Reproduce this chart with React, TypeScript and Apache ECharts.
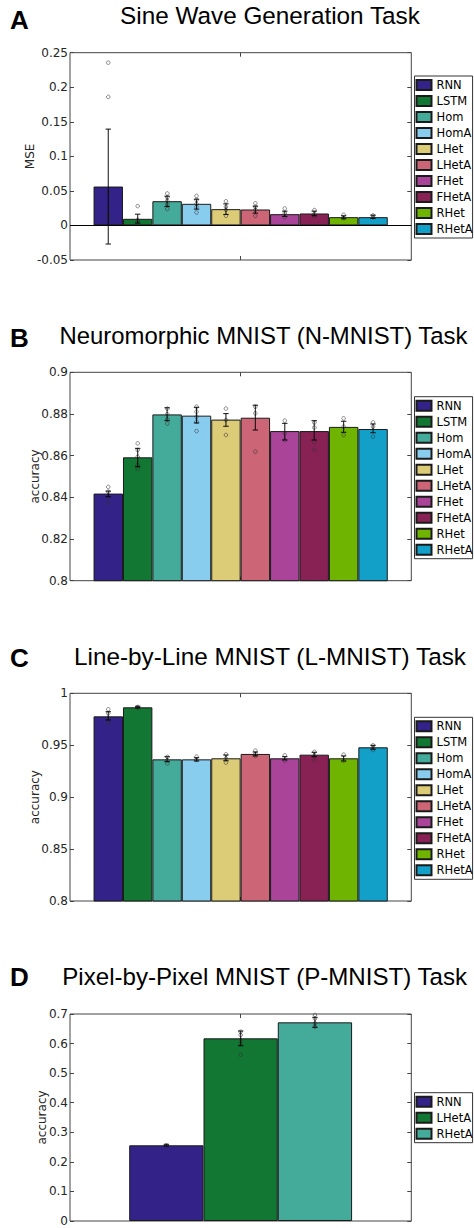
import React, { useEffect, useRef } from 'react';
import * as echarts from 'echarts';

// ---------- data ----------
const MODELS = ['RNN', 'LSTM', 'Hom', 'HomA', 'LHet', 'LHetA', 'FHet', 'FHetA', 'RHet', 'RHetA'];
const MODELS_D = ['RNN', 'LHetA', 'RHetA'];

const SINE_MEAN = [0.0563, 0.0096, 0.0351, 0.0313, 0.0236, 0.0231, 0.0163, 0.0173, 0.012, 0.012];
const SINE_LOW = [-0.0269, 0.0034, 0.0274, 0.0236, 0.0159, 0.0178, 0.013, 0.014, 0.0096, 0.0101];
const SINE_HIGH = [0.1394, 0.0163, 0.0423, 0.038, 0.0313, 0.0279, 0.0207, 0.0207, 0.014, 0.0149];
const SINE_RUNS = [
  [0.2356, 0.186, 0.0476, 0.027, 0.016, 0.014, 0.008],
  [0.028, 0.008, 0.006],
  [0.0476, 0.042, 0.037, 0.032, 0.025],
  [0.0428, 0.037, 0.031, 0.027, 0.0188],
  [0.035, 0.027, 0.0226, 0.014],
  [0.032, 0.027, 0.0226, 0.014],
  [0.0245, 0.0178, 0.012],
  [0.0236, 0.0178, 0.014],
  [0.0154, 0.0106],
  [0.0145, 0.012],
];

const NMNIST_MEAN = [0.8418, 0.8592, 0.8798, 0.8792, 0.8773, 0.8782, 0.8718, 0.8718, 0.8738, 0.8728];
const NMNIST_LOW = [0.8403, 0.8547, 0.8768, 0.8757, 0.8741, 0.8723, 0.8675, 0.8675, 0.8712, 0.871];
const NMNIST_HIGH = [0.843, 0.8635, 0.883, 0.8832, 0.8802, 0.8842, 0.8755, 0.8768, 0.8765, 0.8752];
const NMNIST_RUNS = [
  [0.845, 0.8427, 0.84, 0.8374],
  [0.8659, 0.8627, 0.8595, 0.8555, 0.8536],
  [0.883, 0.8803, 0.8779, 0.8758],
  [0.8835, 0.8811, 0.8787, 0.8763, 0.8718],
  [0.8826, 0.8771, 0.8699],
  [0.8835, 0.8803, 0.8619],
  [0.8768, 0.8707, 0.8675],
  [0.8763, 0.8739, 0.8667, 0.8632],
  [0.8779, 0.8739, 0.8699],
  [0.876, 0.8739, 0.8691],
];

const LMNIST_MEAN = [0.9778, 0.9865, 0.9364, 0.9364, 0.9374, 0.9416, 0.9374, 0.9409, 0.9374, 0.948];
const LMNIST_LOW = [0.9743, 0.9859, 0.9342, 0.9348, 0.9351, 0.9397, 0.9358, 0.939, 0.9348, 0.9461];
const LMNIST_HIGH = [0.9823, 0.9875, 0.939, 0.938, 0.9406, 0.9435, 0.939, 0.9432, 0.9397, 0.9499];
const LMNIST_RUNS = [
  [0.9846, 0.9807, 0.9759, 0.9711],
  [0.9868, 0.9862],
  [0.9397, 0.9364, 0.9332],
  [0.939, 0.9358],
  [0.9413, 0.9374, 0.9332],
  [0.9448, 0.9416, 0.9397],
  [0.9403, 0.9351],
  [0.9445, 0.9406, 0.9364],
  [0.9409, 0.9351],
  [0.9499, 0.9477, 0.9454],
];

const PMNIST_MEAN = [0.2559, 0.6177, 0.6718];
const PMNIST_LOW = [0.2536, 0.5929, 0.6549];
const PMNIST_HIGH = [0.2593, 0.6425, 0.6887];
const PMNIST_RUNS = [
  [0.2559],
  [0.64, 0.629, 0.612, 0.5985, 0.5625],
  [0.6966, 0.6842, 0.6684, 0.6571],
];

// ---------- styles ----------
const COLORS = ['#332288', '#117733', '#44AA99', '#88CCEE', '#DDCC77', '#CC6677', '#AA4499', '#882255', '#6fb400', '#129fc8'];
const COLORS_D = ['#332288', '#117733', '#44AA99'];
const AX = '#444444';
const TXT = '#262626';
const TICK_FONT = '"DejaVu Sans", sans-serif';
const TITLE_FONT = '"Liberation Sans", Arial, sans-serif';

type PanelCfg = {
  letter: string;
  title: string;
  top: number;
  height: number;
  titleX: number;
  titleAlign: string;
  titleSize: number;
  titleY: number;
  letterY: number;
  gridTop: number;
  gridH: number;
  legendTop: number;
  names: string[];
  colors: string[];
  mean: number[];
  low: number[];
  high: number[];
  runs: number[][];
  yMin: number;
  yMax: number;
  yStep: number;
  yName: string;
  nameGap: number;
  gap: number;
  zeroLine: boolean;
};

const PANELS: PanelCfg[] = [
  {
    letter: 'A', title: 'Sine Wave Generation Task', top: 0, height: 300,
    titleX: 270, titleAlign: 'center', titleSize: 24.3, titleY: 15, letterY: 20,
    gridTop: 52.7, gridH: 207.3, legendTop: 76, names: MODELS, colors: COLORS,
    mean: SINE_MEAN, low: SINE_LOW, high: SINE_HIGH, runs: SINE_RUNS,
    yMin: -0.05, yMax: 0.25, yStep: 0.05, yName: 'MSE', nameGap: 34, gap: 0.138, zeroLine: true,
  },
  {
    letter: 'B', title: 'Neuromorphic MNIST (N-MNIST) Task', top: 300, height: 320,
    titleX: 59.5, titleAlign: 'left', titleSize: 23.9, titleY: 35, letterY: 37.7,
    gridTop: 72.3, gridH: 208.4, legendTop: 96.7, names: MODELS, colors: COLORS,
    mean: NMNIST_MEAN, low: NMNIST_LOW, high: NMNIST_HIGH, runs: NMNIST_RUNS,
    yMin: 0.8, yMax: 0.9, yStep: 0.02, yName: 'accuracy', nameGap: 29, gap: 0.138, zeroLine: false,
  },
  {
    letter: 'C', title: 'Line-by-Line MNIST (L-MNIST) Task', top: 620, height: 300,
    titleX: 270, titleAlign: 'center', titleSize: 24.3, titleY: 36, letterY: 37.7,
    gridTop: 73.3, gridH: 207.7, legendTop: 97.3, names: MODELS, colors: COLORS,
    mean: LMNIST_MEAN, low: LMNIST_LOW, high: LMNIST_HIGH, runs: LMNIST_RUNS,
    yMin: 0.8, yMax: 1, yStep: 0.05, yName: 'accuracy', nameGap: 29, gap: 0.138, zeroLine: false,
  },
  {
    letter: 'D', title: 'Pixel-by-Pixel MNIST (P-MNIST) Task', top: 920, height: 308,
    titleX: 62.3, titleAlign: 'left', titleSize: 24.1, titleY: 56, letterY: 56.7,
    gridTop: 94, gridH: 207, legendTop: 172.7, names: MODELS_D, colors: COLORS_D,
    mean: PMNIST_MEAN, low: PMNIST_LOW, high: PMNIST_HIGH, runs: PMNIST_RUNS,
    yMin: 0, yMax: 0.7, yStep: 0.1, yName: 'accuracy', nameGap: 22, gap: 0.347, zeroLine: false,
  },
];

function buildOption(cfg: PanelCfg): any {
  const n = cfg.names.length;
  const offsetX = (api: any, j: number) => {
    const bw = (api.size([1, 0])[0] * (1 - cfg.gap)) / n;
    return (j - (n - 1) / 2) * bw;
  };

  const bars = cfg.names.map((name, j) => {
    const s: any = {
      type: 'bar',
      name,
      data: [cfg.mean[j]],
      barGap: '0%',
      barCategoryGap: cfg.gap * 100 + '%',
      itemStyle: { color: cfg.colors[j], borderColor: '#1a1a1a', borderWidth: 1 },
      silent: true,
      z: 2,
    };
    if (j === 0 && cfg.zeroLine) {
      s.markLine = {
        silent: true,
        symbol: ['none', 'none'],
        label: { show: false },
        lineStyle: { color: '#000', width: 1, type: 'solid' },
        data: [{ yAxis: 0 }],
        z: 5,
      };
    }
    return s;
  });

  const errData = cfg.names.map((_, j) => [0, cfg.low[j], cfg.high[j], j]);
  const ptsData: number[][] = [];
  cfg.runs.forEach((arr, j) => arr.forEach((v) => ptsData.push([0, v, j])));

  const points = {
    type: 'custom',
    silent: true,
    z: 3,
    encode: { x: 0, y: 1 },
    data: ptsData,
    renderItem: (_p: any, api: any) => {
      const j = api.value(2);
      const c = api.coord([0, api.value(1)]);
      return {
        type: 'circle',
        shape: { cx: c[0] + offsetX(api, j), cy: c[1], r: 1.8 },
        style: { fill: 'none', stroke: 'rgba(50,50,50,0.7)', lineWidth: 0.8 },
      };
    },
  };

  const errors = {
    type: 'custom',
    silent: true,
    z: 4,
    encode: { x: 0, y: [1, 2] },
    data: errData,
    renderItem: (_p: any, api: any) => {
      const j = api.value(3);
      const lo = api.coord([0, api.value(1)]);
      const hi = api.coord([0, api.value(2)]);
      const x = lo[0] + offsetX(api, j);
      const cw = 2.7;
      const st = { stroke: 'rgba(0,0,0,0.85)', lineWidth: 1.1 };
      return {
        type: 'group',
        children: [
          { type: 'line', shape: { x1: x, y1: lo[1], x2: x, y2: hi[1] }, style: st },
          { type: 'line', shape: { x1: x - cw, y1: lo[1], x2: x + cw, y2: lo[1] }, style: st },
          { type: 'line', shape: { x1: x - cw, y1: hi[1], x2: x + cw, y2: hi[1] }, style: st },
        ],
      };
    },
  };

  const catAxis = (position: string) => ({
    type: 'category',
    data: [''],
    position,
    axisLine: { show: false, onZero: false },
    axisTick: { show: true, inside: true, alignWithLabel: true, length: 4, lineStyle: { color: AX } },
    axisLabel: { show: false },
    splitLine: { show: false },
  });

  const valAxisBase = {
    type: 'value',
    min: cfg.yMin,
    max: cfg.yMax,
    interval: cfg.yStep,
    axisLine: { show: false },
    axisTick: { show: true, inside: true, length: 4, lineStyle: { color: AX } },
    splitLine: { show: false },
  };

  return {
    animation: false,
    textStyle: { fontFamily: TICK_FONT },
    grid: {
      left: 70, top: cfg.gridTop, width: 341.3, height: cfg.gridH,
      show: true, borderColor: AX, borderWidth: 1, backgroundColor: 'rgba(0,0,0,0)',
    },
    xAxis: [catAxis('bottom'), catAxis('top')],
    yAxis: [
      {
        ...valAxisBase,
        position: 'left',
        name: cfg.yName,
        nameLocation: 'middle',
        nameGap: cfg.nameGap,
        nameRotate: 90,
        nameMoveOverlap: false,
        nameTextStyle: { color: TXT, fontSize: 12, fontFamily: TICK_FONT },
        axisLabel: { margin: 2, color: TXT, fontSize: 12, fontFamily: TICK_FONT },
      },
      { ...valAxisBase, position: 'right', axisLabel: { show: false } },
    ],
    legend: {
      data: cfg.names,
      orient: 'vertical',
      left: 414.5,
      top: cfg.legendTop,
      itemWidth: 15,
      itemHeight: 10,
      itemGap: 4,
      padding: [3, 0, 3, 1],
      borderColor: '#333',
      borderWidth: 1,
      backgroundColor: '#fff',
      icon: 'rect',
      selectedMode: false,
      textStyle: { fontFamily: TICK_FONT, fontSize: 11.5, color: '#000' },
    },
    graphic: [
      {
        type: 'text',
        silent: true,
        style: {
          x: cfg.titleX, y: cfg.titleY, text: cfg.title, font: cfg.titleSize + 'px ' + TITLE_FONT, fill: '#000',
          textAlign: cfg.titleAlign, textVerticalAlign: 'middle', align: cfg.titleAlign, verticalAlign: 'middle',
        },
      },
      {
        type: 'text',
        silent: true,
        style: {
          x: 10, y: cfg.letterY, text: cfg.letter, font: 'bold 26px ' + TITLE_FONT, fill: '#000',
          textAlign: 'left', textVerticalAlign: 'middle', align: 'left', verticalAlign: 'middle',
        },
      },
    ],
    series: [...bars, points, errors],
  };
}

function Panel({ cfg }: { cfg: PanelCfg }) {
  const ref = useRef<HTMLDivElement>(null);
  useEffect(() => {
    if (!ref.current) return;
    const chart = echarts.init(ref.current, undefined, { renderer: 'svg' });
    chart.setOption(buildOption(cfg));
    return () => chart.dispose();
  }, [cfg]);
  return (
    <div
      ref={ref}
      style={{ position: 'absolute', left: 0, top: cfg.top, width: 474, height: cfg.height }}
    />
  );
}

export default function App() {
  return (
    <div style={{ position: 'absolute', left: 0, top: 0, width: 474, height: 1228, background: '#fff', overflow: 'hidden' }}>
      {PANELS.map((p) => (
        <Panel key={p.letter} cfg={p} />
      ))}
    </div>
  );
}
